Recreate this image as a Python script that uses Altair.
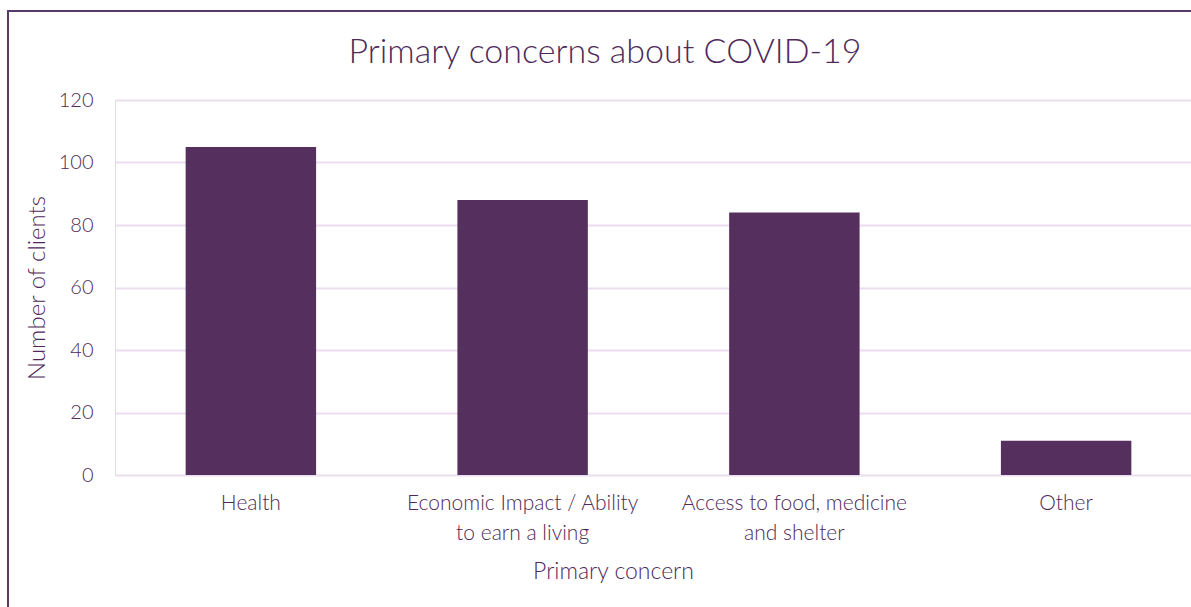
import altair as alt
import pandas as pd

categories = ["Health", "Economic Impact / Ability to earn a living",
              "Access to food, medicine and shelter", "Other"]
label_lines = [["Health"], ["Economic Impact / Ability", "to earn a living"],
               ["Access to food, medicine", "and shelter"], ["Other"]]
clients = [105, 88, 84, 11]
y_ticks = [0, 20, 40, 60, 80, 100, 120]
title_text = "Primary concerns about COVID-19"

df = pd.DataFrame({"concern": categories, "clients": clients})

PURPLE = "#55305F"
TEXT = "#4E2A5A"
GRID = "#EBDDF0"
FONT = "Lato"
WEIGHT = 300

# label expression splitting long labels into lines
parts = []
for cat, lines in zip(categories, label_lines):
    arr = "[" + ",".join("'" + l.replace("'", "\\'") + "'" for l in lines) + "]"
    parts.append(f"datum.label == '{cat}' ? {arr}")
label_expr = " : ".join(parts) + " : datum.label"

W, H = 1076, 375

bars = alt.Chart(df).mark_bar(color=PURPLE).encode(
    x=alt.X("concern:N", sort=categories,
            scale=alt.Scale(range=[0, 1087], paddingInner=0.52, paddingOuter=0.26),
            axis=alt.Axis(title="Primary concern", labelAngle=0, labelExpr=label_expr,
                          labelFont=FONT, labelFontSize=21, labelColor=TEXT,
                          labelFontWeight=WEIGHT,
                          labelPadding=17, labelLineHeight=30, labelLimit=0,
                          ticks=False, domain=False,
                          titleFont=FONT, titleFontSize=23, titleColor=TEXT,
                          titleFontWeight=WEIGHT, titlePadding=17, titleX=498)),
    y=alt.Y("clients:Q",
            scale=alt.Scale(domain=[0, 120], nice=False),
            axis=alt.Axis(title="Number of clients", values=y_ticks,
                          labelFont=FONT, labelFontSize=20, labelColor=TEXT,
                          labelFontWeight=WEIGHT,
                          labelPadding=22, ticks=False, domain=False,
                          gridColor=GRID, gridWidth=2,
                          titleFont=FONT, titleFontSize=24, titleColor=TEXT,
                          titleFontWeight=WEIGHT, titlePadding=9)),
)

title = alt.Chart(pd.DataFrame({"t": [title_text]})).mark_text(
    font=FONT, fontSize=34, fontWeight=WEIGHT, color=TEXT, align="center",
    baseline="alphabetic"
).encode(text="t:N", x=alt.value(490), y=alt.value(-37))

frame = alt.Chart(df).mark_rect(fill=None, stroke="#5A3A68", strokeWidth=2).encode(
    x=alt.value(-107), x2=alt.value(1200), y=alt.value(-89), y2=alt.value(700)
)

chart = alt.layer(bars, title, frame).properties(
    width=W, height=H,
    autosize=alt.AutoSizeParams(type="none"),
    padding={"left": 115, "top": 100, "right": 0, "bottom": 132},
).configure_view(stroke=None).configure(background="white")

chart.save("out.html", embed_options={"renderer": "svg", "actions": False})
